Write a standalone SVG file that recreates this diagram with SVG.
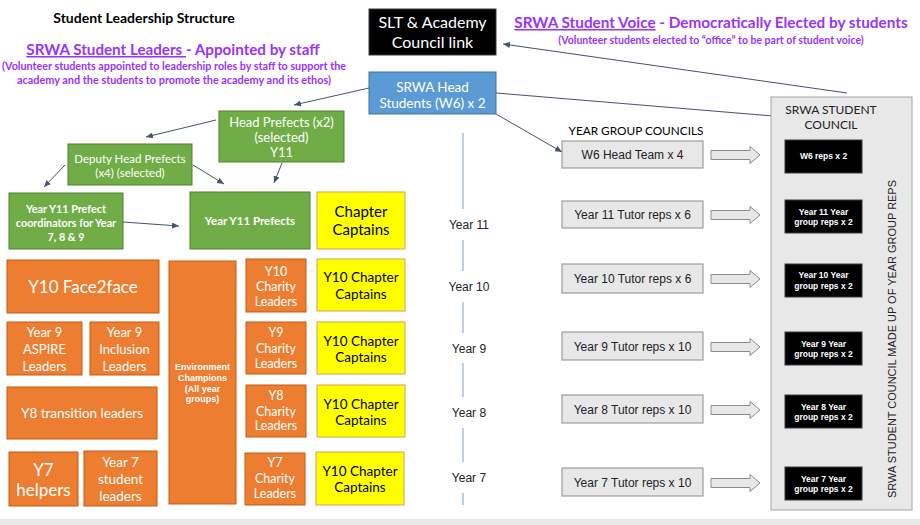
<svg xmlns="http://www.w3.org/2000/svg" width="920" height="525" viewBox="0 0 920 525">
<defs>
<style>
.cal{font-family:Lato,"Open Sans","Liberation Sans",sans-serif}
.ar{font-family:"Liberation Sans",Arial,sans-serif}
.purple{fill:#9933ff;font-weight:bold}
.w{fill:#ffffff}
.k{fill:#000000}
.green{fill:#70ad47;stroke:#507e32;stroke-width:1}
.orange{fill:#ed7d31;stroke:#c55a11;stroke-width:1}
.yellow{fill:#ffff00;stroke:#d6a05a;stroke-width:1}
.blue{fill:#5b9bd5;stroke:#41719c;stroke-width:1}
.grey{fill:#e8e8e8;stroke:#8c8c8c;stroke-width:1}
.blk{fill:#000000;stroke:#3a3a3a;stroke-width:1}
.conn{stroke:#44546a;stroke-width:1;fill:none;marker-end:url(#ah)}
.vline{stroke:#9dc3e6;stroke-width:1.5}
.barrow{fill:#e8e8e8;stroke:#8c8c8c;stroke-width:1}
</style>
<marker id="ah" markerWidth="7" markerHeight="6" refX="7" refY="3" orient="auto" markerUnits="userSpaceOnUse">
<path d="M0,0 L7,3 L0,6 Z" fill="#44546a"/>
</marker>
<path id="barrow" class="barrow" d="M0,-4.5 H39 V-8.5 L49,0 L39,8.5 V4.5 H0 Z"/>
</defs>

<rect x="0" y="519" width="920" height="6" fill="#e9e9e9"/>

<!-- headings -->
<g id="headings" text-anchor="middle">
<text class="cal" x="144" y="23" font-size="14" font-weight="bold" fill="#000">Student Leadership Structure</text>
<text class="cal purple" x="173" y="55" font-size="15.2"><tspan text-decoration="underline">SRWA Student Leaders </tspan>- Appointed by staff</text>
<text class="cal purple" x="174" y="70" font-size="11" textLength="344" lengthAdjust="spacingAndGlyphs">(Volunteer students appointed to leadership roles by staff to support the</text>
<text class="cal purple" x="174" y="84" font-size="11" textLength="314" lengthAdjust="spacingAndGlyphs">academy and the students to promote the academy and its ethos)</text>
<text class="cal purple" x="711" y="28" font-size="15.3"><tspan text-decoration="underline">SRWA Student Voice</tspan> - Democratically Elected by students</text>
<text class="cal purple" x="711" y="44" font-size="10.5">(Volunteer students elected to “office” to be part of student voice)</text>
<text class="cal" x="636" y="135" font-size="11.8" fill="#000">YEAR GROUP COUNCILS</text>
</g>

<!-- connectors -->
<g id="connectors">
<path class="conn" d="M369,88 L294,105"/>
<path class="conn" d="M216,120 L146,137"/>
<path class="conn" d="M65,165 L44,187"/>
<path class="conn" d="M193,165 L224,184"/>
<path class="conn" d="M282,163 L274,183"/>
<path class="conn" d="M123,222 L179,226"/>
<path class="conn" d="M496,114 L562,152"/>
<path class="conn" d="M496,93 L785,117"/>
<path class="conn" d="M847,93 L503,44"/>
<use href="#barrow" x="711" y="155"/>
<use href="#barrow" x="711" y="215"/>
<use href="#barrow" x="711" y="279"/>
<use href="#barrow" x="711" y="347"/>
<use href="#barrow" x="711" y="410"/>
<use href="#barrow" x="711" y="483"/>
</g>

<!-- year timeline -->
<g id="year-timeline">
<line class="vline" x1="463" y1="133" x2="463" y2="209"/>
<line class="vline" x1="463" y1="240" x2="463" y2="271"/>
<line class="vline" x1="463" y1="302" x2="463" y2="333"/>
<line class="vline" x1="463" y1="363" x2="463" y2="397"/>
<line class="vline" x1="463" y1="428" x2="463" y2="462"/>
<line class="vline" x1="463" y1="493" x2="463" y2="505"/>
<g class="ar" font-size="12" fill="#222" text-anchor="middle">
<text x="469" y="229">Year 11</text>
<text x="469" y="291">Year 10</text>
<text x="469" y="353">Year 9</text>
<text x="469" y="417">Year 8</text>
<text x="469" y="482">Year 7</text>
</g>
</g>

<g id="slt">
<rect class="blk" x="369" y="9" width="127" height="46"/>
<text class="cal w" x="432.5" y="28" font-size="16" text-anchor="middle">SLT &amp; Academy</text>
<text class="cal w" x="432.5" y="48" font-size="16" text-anchor="middle">Council link</text>
</g>

<g id="head-students">
<rect class="blue" x="369" y="72" width="127" height="42"/>
<text class="cal w" x="432.5" y="92" font-size="13.5" text-anchor="middle">SRWA Head</text>
<text class="cal w" x="432.5" y="108" font-size="13.5" text-anchor="middle">Students (W6) x 2</text>
</g>

<g id="head-prefects">
<rect class="green" x="219" y="111" width="125" height="51"/>
<g class="cal w" font-size="13" text-anchor="middle">
<text x="281.5" y="126.5">Head Prefects (x2)</text>
<text x="281.5" y="141.5">(selected)</text>
<text x="281.5" y="156.5">Y11</text>
</g>
</g>

<g id="deputy-head-prefects">
<rect class="green" x="68" y="144" width="124" height="41"/>
<g class="cal w" font-size="11.5" text-anchor="middle">
<text x="130" y="163">Deputy Head Prefects</text>
<text x="130" y="177">(x4) (selected)</text>
</g>
</g>

<g id="y11-coordinators">
<rect class="green" x="9" y="193" width="114" height="56"/>
<g class="cal w" font-size="10.8" font-weight="bold" text-anchor="middle">
<text x="66" y="213">Year Y11 Prefect</text>
<text x="66" y="227">coordinators for Year</text>
<text x="66" y="241">7, 8 &amp; 9</text>
</g>
</g>

<g id="y11-prefects">
<rect class="green" x="190" y="192" width="120" height="57"/>
<text class="cal w" x="250" y="225" font-size="11.5" font-weight="bold" text-anchor="middle">Year Y11 Prefects</text>
</g>

<g id="chapter-captains">
<rect class="yellow" x="317" y="192" width="88" height="57"/>
<text class="cal k" x="361" y="217" font-size="15" text-anchor="middle">Chapter</text>
<text class="cal k" x="361" y="235" font-size="15" text-anchor="middle">Captains</text>
</g>

<g id="y10-face2face">
<rect class="orange" x="7" y="260" width="152" height="53"/>
<text class="cal w" x="83" y="293" font-size="17" text-anchor="middle">Y10 Face2face</text>
</g>

<g id="y9-aspire">
<rect class="orange" x="7" y="322" width="75" height="53"/>
<g class="cal w" font-size="13" text-anchor="middle">
<text x="44.5" y="337">Year 9</text>
<text x="44.5" y="354">ASPIRE</text>
<text x="44.5" y="371">Leaders</text>
</g>
</g>

<g id="y9-inclusion">
<rect class="orange" x="90" y="322" width="69" height="53"/>
<g class="cal w" font-size="13" text-anchor="middle">
<text x="124.5" y="337">Year 9</text>
<text x="124.5" y="354">Inclusion</text>
<text x="124.5" y="371">Leaders</text>
</g>
</g>

<g id="y8-transition">
<rect class="orange" x="7" y="387" width="150" height="52"/>
<text class="cal w" x="82" y="418" font-size="13.5" text-anchor="middle">Y8 transition leaders</text>
</g>

<g id="y7-helpers">
<rect class="orange" x="9" y="452" width="69" height="54"/>
<text class="cal w" x="43.5" y="476" font-size="17" text-anchor="middle">Y7</text>
<text class="cal w" x="43.5" y="496" font-size="17" text-anchor="middle">helpers</text>
</g>

<g id="y7-student-leaders">
<rect class="orange" x="84" y="451" width="73" height="55"/>
<g class="cal w" font-size="13.5" text-anchor="middle">
<text x="120.5" y="467">Year 7</text>
<text x="120.5" y="484">student</text>
<text x="120.5" y="501">leaders</text>
</g>
</g>

<g id="environment-champions">
<rect class="orange" x="169" y="261" width="67" height="243"/>
<g class="ar w" font-size="9" font-weight="bold" text-anchor="middle">
<text x="202.5" y="370">Environment</text>
<text x="202.5" y="381">Champions</text>
<text x="202.5" y="391.5">(All year</text>
<text x="202.5" y="402">groups)</text>
</g>
</g>

<g id="y10-charity">
<rect class="orange" x="246" y="259" width="60" height="53"/>
<g class="cal w" font-size="12.5" text-anchor="middle">
<text x="276" y="276">Y10</text>
<text x="276" y="291">Charity</text>
<text x="276" y="306">Leaders</text>
</g>
</g>

<g id="y9-charity">
<rect class="orange" x="246" y="322" width="60" height="52"/>
<g class="cal w" font-size="12.5" text-anchor="middle">
<text x="276" y="337">Y9</text>
<text x="276" y="353">Charity</text>
<text x="276" y="368">Leaders</text>
</g>
</g>

<g id="y8-charity">
<rect class="orange" x="246" y="385" width="60" height="52"/>
<g class="cal w" font-size="12.5" text-anchor="middle">
<text x="276" y="400">Y8</text>
<text x="276" y="416">Charity</text>
<text x="276" y="430">Leaders</text>
</g>
</g>

<g id="y7-charity">
<rect class="orange" x="245" y="453" width="60" height="52"/>
<g class="cal w" font-size="12.5" text-anchor="middle">
<text x="275" y="467">Y7</text>
<text x="275" y="483">Charity</text>
<text x="275" y="498">Leaders</text>
</g>
</g>

<g id="y10-chapter-captains-1">
<rect class="yellow" x="317" y="259" width="88" height="52"/>
<text class="cal k" x="361" y="282" font-size="13.5" text-anchor="middle">Y10 Chapter</text>
<text class="cal k" x="361" y="299" font-size="13.5" text-anchor="middle">Captains</text>
</g>
<g id="y10-chapter-captains-2">
<rect class="yellow" x="317" y="322" width="88" height="52"/>
<text class="cal k" x="361" y="346" font-size="13.5" text-anchor="middle">Y10 Chapter</text>
<text class="cal k" x="361" y="362" font-size="13.5" text-anchor="middle">Captains</text>
</g>
<g id="y10-chapter-captains-3">
<rect class="yellow" x="317" y="385" width="88" height="52"/>
<text class="cal k" x="361" y="409" font-size="13.5" text-anchor="middle">Y10 Chapter</text>
<text class="cal k" x="361" y="425" font-size="13.5" text-anchor="middle">Captains</text>
</g>
<g id="y10-chapter-captains-4">
<rect class="yellow" x="316" y="452" width="88" height="53"/>
<text class="cal k" x="360" y="476" font-size="13.5" text-anchor="middle">Y10 Chapter</text>
<text class="cal k" x="360" y="492" font-size="13.5" text-anchor="middle">Captains</text>
</g>

<!-- year group councils -->
<g id="w6-head-team">
<rect class="grey" x="562" y="141" width="141" height="27"/>
<text class="ar" x="632.5" y="158.5" font-size="12" fill="#222" text-anchor="middle">W6 Head Team x 4</text>
</g>
<g id="y11-tutor-reps">
<rect class="grey" x="562" y="201" width="141" height="27"/>
<text class="ar" x="632.5" y="219" font-size="12" fill="#222" text-anchor="middle">Year 11 Tutor reps x 6</text>
</g>
<g id="y10-tutor-reps">
<rect class="grey" x="562" y="264" width="141" height="29"/>
<text class="ar" x="632.5" y="282.5" font-size="12" fill="#222" text-anchor="middle">Year 10 Tutor reps x 6</text>
</g>
<g id="y9-tutor-reps">
<rect class="grey" x="562" y="332" width="141" height="28"/>
<text class="ar" x="632.5" y="351" font-size="12" fill="#222" text-anchor="middle">Year 9 Tutor reps x 10</text>
</g>
<g id="y8-tutor-reps">
<rect class="grey" x="562" y="395" width="141" height="28"/>
<text class="ar" x="632.5" y="413.5" font-size="12" fill="#222" text-anchor="middle">Year 8 Tutor reps x 10</text>
</g>
<g id="y7-tutor-reps">
<rect class="grey" x="562" y="468" width="141" height="28"/>
<text class="ar" x="632.5" y="486.5" font-size="12" fill="#222" text-anchor="middle">Year 7 Tutor reps x 10</text>
</g>

<!-- student council -->
<g id="student-council">
<rect x="771" y="97" width="141" height="413" fill="#e8e8e8" stroke="#a6a6a6" stroke-width="1"/>
<text class="cal" x="831" y="114" font-size="12" fill="#222" text-anchor="middle">SRWA STUDENT</text>
<text class="cal" x="831" y="129" font-size="12" fill="#222" text-anchor="middle">COUNCIL</text>
<text class="ar" transform="translate(896,339) rotate(-90)" font-size="11" fill="#222" text-anchor="middle" textLength="318" lengthAdjust="spacingAndGlyphs">SRWA STUDENT COUNCIL MADE UP OF YEAR GROUP REPS</text>
</g>

<g id="w6-reps">
<rect class="blk" x="785" y="140" width="77" height="33"/>
<text class="ar w" x="823.5" y="159" font-size="8.5" font-weight="bold" text-anchor="middle">W6 reps x 2</text>
</g>
<g id="y11-reps">
<rect class="blk" x="785" y="200" width="77" height="33"/>
<text class="ar w" x="823.5" y="215" font-size="8.5" font-weight="bold" text-anchor="middle">Year 11 Year</text>
<text class="ar w" x="823.5" y="225" font-size="8.5" font-weight="bold" text-anchor="middle">group reps x 2</text>
</g>
<g id="y10-reps">
<rect class="blk" x="785" y="264" width="77" height="33"/>
<text class="ar w" x="823.5" y="278" font-size="8.5" font-weight="bold" text-anchor="middle">Year 10 Year</text>
<text class="ar w" x="823.5" y="289" font-size="8.5" font-weight="bold" text-anchor="middle">group reps x 2</text>
</g>
<g id="y9-reps">
<rect class="blk" x="785" y="332" width="77" height="33"/>
<text class="ar w" x="823.5" y="347" font-size="8.5" font-weight="bold" text-anchor="middle">Year 9 Year</text>
<text class="ar w" x="823.5" y="357" font-size="8.5" font-weight="bold" text-anchor="middle">group reps x 2</text>
</g>
<g id="y8-reps">
<rect class="blk" x="785" y="395" width="77" height="33"/>
<text class="ar w" x="823.5" y="410" font-size="8.5" font-weight="bold" text-anchor="middle">Year 8 Year</text>
<text class="ar w" x="823.5" y="420" font-size="8.5" font-weight="bold" text-anchor="middle">group reps x 2</text>
</g>
<g id="y7-reps">
<rect class="blk" x="785" y="467" width="77" height="33"/>
<text class="ar w" x="823.5" y="482" font-size="8.5" font-weight="bold" text-anchor="middle">Year 7 Year</text>
<text class="ar w" x="823.5" y="492" font-size="8.5" font-weight="bold" text-anchor="middle">group reps x 2</text>
</g>
</svg>
